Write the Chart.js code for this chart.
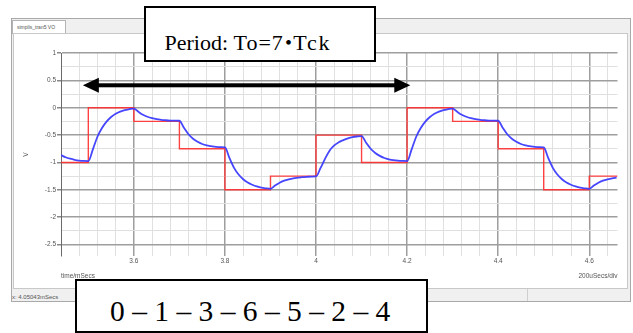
<!DOCTYPE html>
<html>
<head>
<meta charset="utf-8">
<script src="https://cdn.jsdelivr.net/npm/chart.js@4.4.1/dist/chart.umd.min.js"></script>
<style>
  html, body { margin: 0; padding: 0; background: #fff; }
  body { width: 633px; height: 333px; position: relative; overflow: hidden; font-family: "Liberation Sans", Arial, sans-serif; }
  .frame { position: absolute; left: 11px; top: 18px; width: 620px; height: 284px; background: #f0f0f0; border: 1px solid #a9a9a9; box-sizing: border-box; }
  .tab { position: absolute; left: 12px; top: 20px; width: 54px; height: 14px; background: #fff; border: 1px solid #b4b4b4; border-bottom: none; box-sizing: border-box; font-size: 5px; color: #555; line-height: 13px; padding-left: 4px; white-space: nowrap; }
  .panel { position: absolute; left: 13px; top: 33px; width: 615px; height: 256px; background: #fff; border: 1px solid #c8c8c8; box-sizing: border-box; }
  .status { position: absolute; left: 12px; top: 293px; font-size: 6px; line-height: 8px; color: #555; white-space: nowrap; }
  .divider { position: absolute; left: 527px; top: 289px; width: 1px; height: 12px; background: #cfcfcf; }
  #chart { position: absolute; left: 0; top: 0; }
  .box { position: absolute; background: #fff; border: 2px solid #000; box-sizing: border-box; font-family: "Liberation Serif", "Times New Roman", serif; color: #000; white-space: nowrap; }
  .box > span { position: absolute; }
  .period { left: 144px; top: 6px; width: 232px; height: 56px; font-size: 22px; line-height: 22px; }
  .period > span { left: 18.5px; top: 20.6px; }
  .period .to { letter-spacing: 1px; }
  .period .dot { font-family: "Noto Sans CJK JP", sans-serif; margin: 0 -6.3px; }
  .period .tck { letter-spacing: 1.8px; }
  .code { left: 75px; top: 279px; width: 353px; height: 54px; font-size: 29.5px; line-height: 29.5px; }
  .code > span { left: 33px; top: 16px; }
</style>
</head>
<body>
<div class="frame"></div>
<div class="tab">simplis_tran5 VO</div>
<div class="panel"></div>
<div class="status">x: 4.05043mSecs</div>
<div class="divider"></div>
<canvas id="chart" width="633" height="333"></canvas>
<div class="box period"><span>Period: <span class="to">To=7</span><span class="dot">・</span><span class="tck">Tck</span></span></div>
<div class="box code"><span>0 – 1 – 3 – 6 – 5 – 2 – 4</span></div>
<script>
// input staircase (red): level held from each clock edge on
const stepTime = [3.44, 3.5, 3.6, 3.7, 3.8, 3.9, 4.0, 4.1, 4.2, 4.3, 4.4, 4.5, 4.6, 4.662];
const stepLevel = [-1, 0, -0.25, -0.75, -1.5, -1.25, -0.5, -1, 0, -0.25, -0.75, -1.5, -1.25, -1.25];

// filtered output VO (blue)
const outTime = [
  3.44, 3.45, 3.46, 3.47, 3.48, 3.49, 3.50, 3.51, 3.52, 3.53,
  3.54, 3.55, 3.56, 3.57, 3.58, 3.59, 3.60, 3.61, 3.62, 3.63,
  3.64, 3.65, 3.66, 3.67, 3.68, 3.69, 3.70, 3.71, 3.72, 3.73,
  3.74, 3.75, 3.76, 3.77, 3.78, 3.79, 3.80, 3.81, 3.82, 3.83,
  3.84, 3.85, 3.86, 3.87, 3.88, 3.89, 3.90, 3.91, 3.92, 3.93,
  3.94, 3.95, 3.96, 3.97, 3.98, 3.99, 4.00, 4.01, 4.02, 4.03,
  4.04, 4.05, 4.06, 4.07, 4.08, 4.09, 4.10, 4.11, 4.12, 4.13,
  4.14, 4.15, 4.16, 4.17, 4.18, 4.19, 4.20, 4.21, 4.22, 4.23,
  4.24, 4.25, 4.26, 4.27, 4.28, 4.29, 4.30, 4.31, 4.32, 4.33,
  4.34, 4.35, 4.36, 4.37, 4.38, 4.39, 4.40, 4.41, 4.42, 4.43,
  4.44, 4.45, 4.46, 4.47, 4.48, 4.49, 4.50, 4.51, 4.52, 4.53,
  4.54, 4.55, 4.56, 4.57, 4.58, 4.59, 4.60, 4.61, 4.62, 4.63,
  4.64, 4.65, 4.66
];
const outVolts = [
  -0.865, -0.905, -0.932, -0.952, -0.965, -0.972, -0.975, -0.76, -0.53, -0.37,
  -0.255, -0.17, -0.11, -0.07, -0.043, -0.027, -0.015, -0.074, -0.128, -0.165,
  -0.191, -0.21, -0.222, -0.229, -0.234, -0.237, -0.238, -0.368, -0.485, -0.566,
  -0.623, -0.663, -0.689, -0.703, -0.715, -0.721, -0.726, -0.92, -1.098, -1.221,
  -1.307, -1.368, -1.407, -1.438, -1.461, -1.473, -1.481, -1.423, -1.37, -1.333,
  -1.308, -1.289, -1.278, -1.268, -1.262, -1.258, -1.256, -1.10, -0.93, -0.78,
  -0.689, -0.629, -0.591, -0.56, -0.538, -0.526, -0.519, -0.639, -0.75, -0.827,
  -0.88, -0.918, -0.942, -0.958, -0.967, -0.972, -0.975, -0.76, -0.53, -0.37,
  -0.255, -0.17, -0.11, -0.07, -0.043, -0.027, -0.015, -0.074, -0.128, -0.165,
  -0.191, -0.21, -0.222, -0.229, -0.234, -0.237, -0.238, -0.368, -0.485, -0.566,
  -0.623, -0.663, -0.689, -0.703, -0.715, -0.721, -0.726, -0.92, -1.098, -1.221,
  -1.307, -1.368, -1.407, -1.438, -1.461, -1.473, -1.481, -1.423, -1.37, -1.333,
  -1.308, -1.289, -1.278
];

const xMajor = [3.6, 3.8, 4.0, 4.2, 4.4, 4.6];
const xLabels = ['3.6', '3.8', '4', '4.2', '4.4', '4.6'];
const yMajor = [1, 0.5, 0, -0.5, -1, -1.5, -2, -2.5];
const yLabels = ['1', '0.5', '0', '-0.5', '-1', '-1.5', '-2', '-2.5'];

// period arrow (To = 7 clock periods)
const periodArrow = { from: 3.488, to: 4.207, level: 0.41 };

const near = (list, v) => list.findIndex(m => Math.abs(m - v) < 1e-6);
const tickFont = { family: 'Liberation Sans', size: 6.5 };

const overlay = {
  id: 'overlay',
  afterDatasetsDraw(chart) {
    const { ctx, scales: { x, y } } = chart;
    const yy = y.getPixelForValue(periodArrow.level);
    const x1 = x.getPixelForValue(periodArrow.from);
    const x2 = x.getPixelForValue(periodArrow.to);
    ctx.save();
    ctx.fillStyle = '#000';
    ctx.fillRect(x1 + 10, yy - 2, x2 - x1 - 20, 4);
    ctx.beginPath();
    ctx.moveTo(x1, yy);
    ctx.lineTo(x1 + 16, yy - 7.5);
    ctx.lineTo(x1 + 16, yy + 7.5);
    ctx.closePath();
    ctx.moveTo(x2, yy);
    ctx.lineTo(x2 - 16, yy - 7.5);
    ctx.lineTo(x2 - 16, yy + 7.5);
    ctx.closePath();
    ctx.fill();

    const area = chart.chartArea;
    ctx.fillStyle = '#555';
    ctx.font = '6.5px "Liberation Sans"';
    ctx.textBaseline = 'alphabetic';
    ctx.textAlign = 'left';
    ctx.fillText('time/mSecs', area.left, 278);
    ctx.textAlign = 'right';
    ctx.fillText('200uSecs/div', area.right, 277.5);
    ctx.translate(27.5, 154.5);
    ctx.rotate(-Math.PI / 2);
    ctx.textAlign = 'center';
    ctx.fillText('V', 0, 0);
    ctx.restore();
  }
};

new Chart(document.getElementById('chart'), {
  type: 'line',
  data: {
    datasets: [
      {
        label: 'VO',
        data: outTime.map((t, i) => ({ x: t, y: outVolts[i] })),
        borderColor: 'rgba(60, 60, 255, 0.95)',
        borderWidth: 1.8,
        pointRadius: 0,
        cubicInterpolationMode: 'monotone'
      },
      {
        label: 'input',
        data: stepTime.map((t, i) => ({ x: t, y: stepLevel[i] })),
        borderColor: 'rgba(255, 45, 45, 0.9)',
        borderWidth: 1.4,
        pointRadius: 0,
        stepped: true
      }
    ]
  },
  options: {
    responsive: false,
    devicePixelRatio: 1,
    animation: false,
    layout: { padding: { left: 0, top: 53, right: 15.5, bottom: 57.5 } },
    plugins: { legend: { display: false }, tooltip: { enabled: false } },
    scales: {
      x: {
        type: 'linear',
        min: 3.44,
        max: 4.662,
        afterBuildTicks: s => {
          const t = [];
          for (let i = 0; i <= 30; i++) t.push({ value: +(3.44 + i * 0.04).toFixed(2) });
          s.ticks = t;
        },
        afterFit: s => { s.height = 20; },
        ticks: {
          autoSkip: false,
          maxRotation: 0,
          padding: 1.5,
          font: tickFont,
          color: '#555',
          callback: v => { const k = near(xMajor, v); return k < 0 ? '' : xLabels[k]; }
        },
        grid: {
          drawTicks: false,
          color: c => near(xMajor, c.tick.value) < 0 ? '#e0e0e0' : '#9e9e9e',
          lineWidth: c => near(xMajor, c.tick.value) < 0 ? 1 : 1.5
        },
        border: { display: false }
      },
      y: {
        min: -2.7,
        max: 1,
        afterBuildTicks: s => {
          const t = [];
          for (let i = 0; i <= 14; i++) t.push({ value: 1 - i * 0.25 });
          s.ticks = t;
        },
        afterFit: s => { s.width = 61; },
        ticks: {
          autoSkip: false,
          padding: 1,
          font: tickFont,
          color: '#555',
          callback: v => { const k = near(yMajor, v); return k < 0 ? '' : yLabels[k]; }
        },
        grid: {
          tickLength: 4,
          color: c => near(yMajor, c.tick.value) < 0 ? '#e0e0e0' : '#9e9e9e',
          tickColor: c => near(yMajor, c.tick.value) < 0 ? 'rgba(0,0,0,0)' : '#888',
          lineWidth: c => near(yMajor, c.tick.value) < 0 ? 1 : 1.5
        },
        border: { display: true, color: '#6a6a6a', width: 1 }
      }
    }
  },
  plugins: [overlay]
});
</script>
</body>
</html>
